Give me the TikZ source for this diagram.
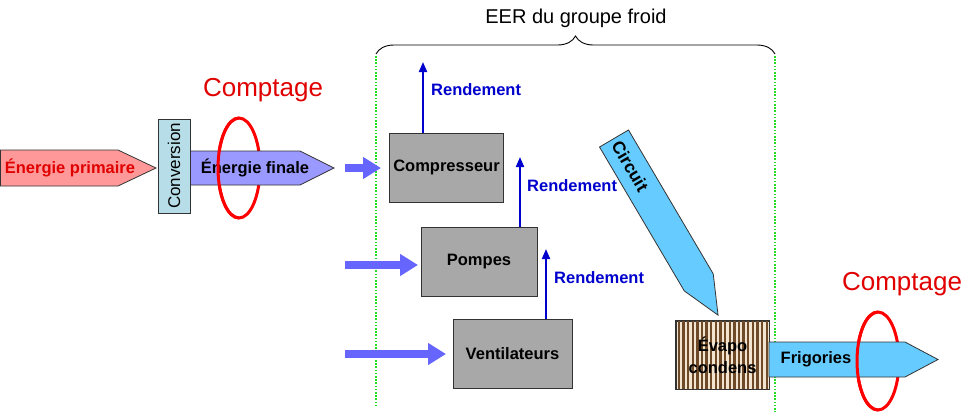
\documentclass[tikz,border=0pt]{standalone}
\usepackage{fontspec}
\setmainfont{Liberation Sans}
\usetikzlibrary{arrows.meta,decorations.pathreplacing,calc}
\definecolor{pinkA}{HTML}{FF9999}
\definecolor{lavA}{HTML}{9999FF}
\definecolor{convC}{HTML}{B7DEE8}
\definecolor{fatB}{HTML}{6666FF}
\definecolor{rendB}{HTML}{0000CC}
\definecolor{grayBox}{HTML}{A8A8A8}
\definecolor{skyA}{HTML}{66CCFF}
\definecolor{greenD}{HTML}{22DD22}
\definecolor{redC}{HTML}{E00000}
\definecolor{brownS}{HTML}{6E4A28}
\definecolor{beigeS}{HTML}{F2E4CE}
\definecolor{edgeC}{HTML}{333333}
\begin{document}
\begin{tikzpicture}[x=1pt,y=-1pt,
  lbl/.style={font=\fontsize{16.5}{22}\selectfont\bfseries, inner sep=0pt},
  shapeedge/.style={draw=edgeC, line width=0.8pt},
  graybox/.style={shapeedge, fill=grayBox, inner sep=0pt, font=\fontsize{16.5}{19}\selectfont\bfseries},
  fat/.style={draw=fatB, line width=8pt, -{Triangle[length=18pt,width=21pt]}},
  rend/.style={draw=rendB, line width=2pt, -{Triangle[length=10pt,width=8pt]}},
  rendlbl/.style={lbl, text=rendB, anchor=west},
  ring/.style={draw=red, line width=3pt},
  comptlbl/.style={font=\fontsize{26}{30}\selectfont, text=redC, inner sep=0pt},
  gline/.style={draw=greenD, line width=2pt, dash pattern=on 1.6pt off 1.6pt}
]
\useasboundingbox (0,0) rectangle (979,418);

% ---- brace and title
\coordinate (bl) at (376,54);
\coordinate (br) at (775,54);
\draw[line width=0.9pt, decorate, decoration={brace, amplitude=18pt}] (bl) -- (br);
\node[font=\fontsize{20}{24}\selectfont, inner sep=0pt] (eer) at (576,18) {EER du groupe froid};

% ---- green dotted limits
\coordinate (gl1) at (376,56);
\coordinate (gl2) at (376,406);
\coordinate (gr1) at (775,56);
\coordinate (gr2) at (775,412);
\draw[gline] (gl1) -- (gl2);
\draw[gline] (gr1) -- (gr2);

% ---- ring 1 (back part)
\coordinate (ring1) at (239,168);
\draw[ring] (ring1) ellipse [x radius=21pt, y radius=50pt];

% ---- energy arrows
\draw[shapeedge, fill=pinkA] (0.5,150) -- (118,150) -- (156,168) -- (118,186) -- (0.5,186) -- cycle;
\node[lbl, text=redC] (eprim) at (70,168) {Énergie primaire};
\draw[shapeedge, fill=lavA] (190,151) -- (300,151) -- (334,168) -- (300,185) -- (190,185) -- cycle;
\node[lbl] (efin) at (255,168) {Énergie finale};
\node[shapeedge, fill=convC, minimum width=32pt, minimum height=94pt, inner sep=0pt] (conv) at (174,166) {};
\node[rotate=90, font=\fontsize{17}{20}\selectfont, inner sep=0pt] (convt) at (conv.center) {Conversion};

% ---- ring 1 (front part)
\draw[ring] (ring1) ++(0pt,50pt) arc[start angle=90, end angle=270, x radius=21pt, y radius=50pt];
\node[comptlbl] (c1) at (263,90) {Comptage};

% ---- boxes
\node[graybox, minimum width=114pt, minimum height=69pt] (comp) at (446.5,167.5) {Compresseur};
\node[graybox, minimum width=116pt, minimum height=69pt] (pomp) at (479,261.5) {Pompes};
\node[graybox, minimum width=119pt, minimum height=69pt] (vent) at (512.5,353.5) {Ventilateurs};

% ---- fat input arrows
\coordinate (in1) at (345,168);
\coordinate (out1) at (381,168);
\coordinate (in2) at (345,265);
\coordinate (out2) at (418,265);
\coordinate (in3) at (345,354);
\coordinate (out3) at (446,354);
\draw[fat] (in1) -- (out1);
\draw[fat] (in2) -- (out2);
\draw[fat] (in3) -- (out3);

% ---- rendement arrows
\coordinate (r1) at (423,62);
\coordinate (r2) at (520,157);
\coordinate (r3) at (546,249);
\draw[rend] (comp.north -| r1) -- (r1);
\draw[rend] (pomp.north -| r2) -- (r2);
\draw[rend] (vent.north -| r3) -- (r3);
\node[rendlbl] (l1) at (431,90) {Rendement};
\node[rendlbl] (l2) at (527,186) {Rendement};
\node[rendlbl] (l3) at (554,278) {Rendement};

% ---- circuit arrow
\begin{scope}[shift={(614,138.5)}, rotate=-59.5]
  \draw[shapeedge, fill=skyA] (0,-16.8) -- (167,-16.8) -- (205,0) -- (167,16.8) -- (0,16.8) -- cycle;
  \node[font=\fontsize{17.5}{20}\selectfont\bfseries, rotate=-59.5, inner sep=0pt] (circ) at (32,0) {Circuit};
\end{scope}

% ---- evapo condens
\node[shapeedge, fill=beigeS, minimum width=93pt, minimum height=68pt, inner sep=0pt] (evap) at (722.5,355) {};
\foreach \i in {0,...,19} {
  \draw[brownS, line width=2.4pt] ($(evap.north west)+(3.2pt+\i*4.63pt,0)$) -- ($(evap.south west)+(3.2pt+\i*4.63pt,0)$);
}
\draw[shapeedge] (evap.north west) rectangle (evap.south east);
\node[lbl, align=center] (evapt) at (evap.center) {Évapo\\condens};

% ---- ring 2 back
\coordinate (ring2) at (878,361);
\draw[ring] (ring2) ellipse [x radius=21pt, y radius=49pt];

% ---- frigories
\draw[shapeedge, fill=skyA] (769,342) -- (905,342) -- (938,359.5) -- (905,377) -- (769,377) -- cycle;
\node[lbl] (frig) at (816,359) {Frigories};

% ---- ring 2 front
\draw[ring] (ring2) ++(0pt,49pt) arc[start angle=90, end angle=270, x radius=21pt, y radius=49pt];
\node[comptlbl] (c2) at (902,284) {Comptage};
\end{tikzpicture}
\end{document}
